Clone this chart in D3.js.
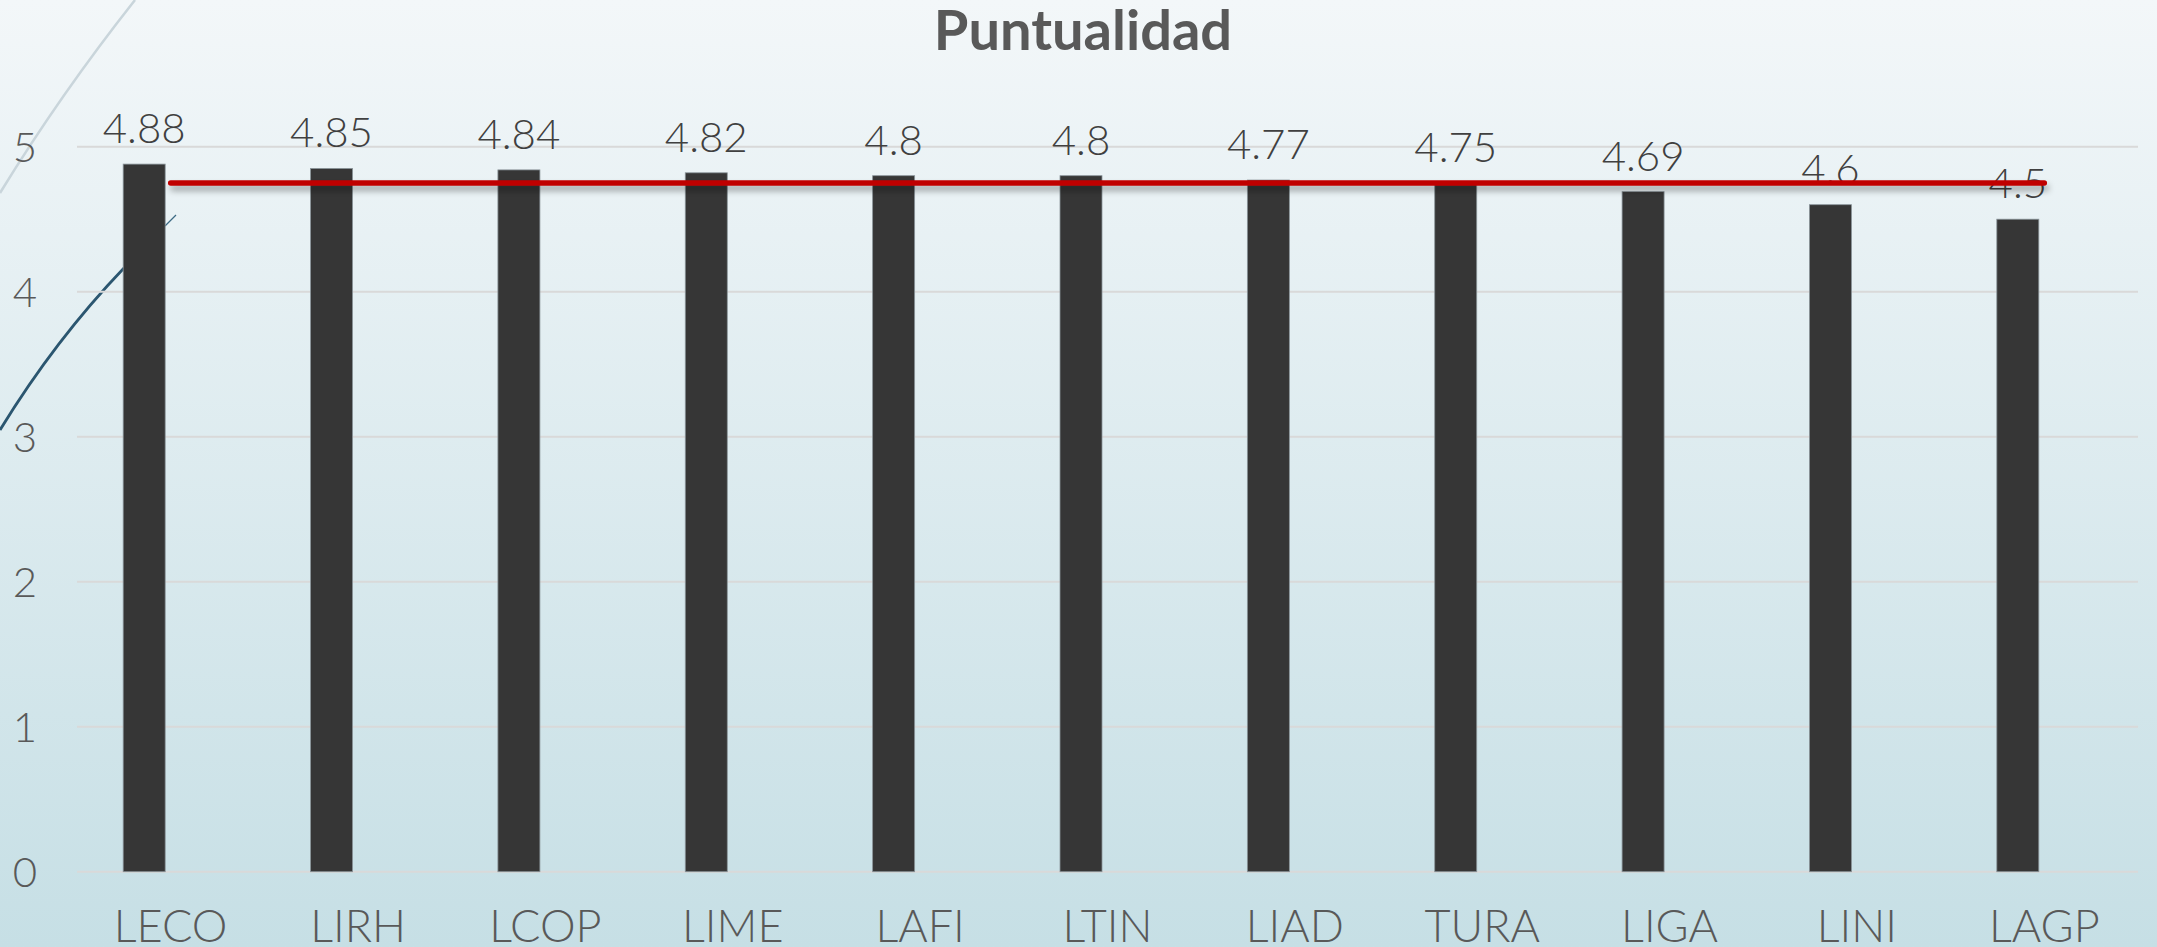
<!DOCTYPE html>
<html>
<head>
<meta charset="utf-8">
<script src="https://cdn.jsdelivr.net/npm/d3@7.9.0/dist/d3.min.js"></script>
<style>
  html, body { margin: 0; padding: 0; overflow: hidden; }
  svg { display: block; font-family: Lato, "Open Sans", sans-serif; }
</style>
</head>
<body>
<div id="chart"></div>
<script>
const categories = ['LECO','LIRH','LCOP','LIME','LAFI','LTIN','LIAD','TURA','LIGA','LINI','LAGP'];
const values     = [4.88, 4.85, 4.84, 4.82, 4.8, 4.8, 4.77, 4.75, 4.69, 4.6, 4.5];
const target     = 4.75;
const yTicks     = [0, 1, 2, 3, 4, 5];
const title      = 'Puntualidad';

const W = 2157, H = 947;
const plot = { left: 77, right: 2138, top: 146.7, bottom: 871.7 };
const barShift = -26.5;   // bars sit a little left of the category slots
const barWidth = 42;

const svg = d3.select('#chart').append('svg')
  .attr('width', W).attr('height', H);

//─── background gradient + filters ───────────
const defs = svg.append('defs');
const grad = defs.append('linearGradient')
  .attr('id', 'bg').attr('x1', 0).attr('y1', 0).attr('x2', 0).attr('y2', 1);
grad.append('stop').attr('offset', '0%').attr('stop-color', '#f3f7f9');
grad.append('stop').attr('offset', '100%').attr('stop-color', '#c6dfe5');

// horizontal line has a zero-height bbox, so the filter needs user space units
const shadow = defs.append('filter').attr('id', 'shadow')
  .attr('filterUnits', 'userSpaceOnUse')
  .attr('x', 0).attr('y', 0).attr('width', W).attr('height', H);
shadow.append('feDropShadow')
  .attr('dx', 2).attr('dy', 5).attr('stdDeviation', 3)
  .attr('flood-color', '#000').attr('flood-opacity', 0.35);

svg.append('rect').attr('width', W).attr('height', H).attr('fill', 'url(#bg)');

// decorative arcs from the slide theme
svg.append('path')
  .attr('d', 'M135,0 Q60,95 0,193')
  .attr('fill', 'none').attr('stroke', '#c9d5db').attr('stroke-width', 2.5);
svg.append('path')
  .attr('d', 'M124,268 Q55,340 0,430')
  .attr('fill', 'none').attr('stroke', '#2b5670').attr('stroke-width', 2.8);
svg.append('path')
  .attr('d', 'M165,226 L176,215')
  .attr('fill', 'none').attr('stroke', '#3d6a84').attr('stroke-width', 1.3);

//─── scales ──────────────────────────────────
const x = d3.scaleBand()
  .domain(categories)
  .range([plot.left, plot.right]);
const cx = d => x(d) + x.bandwidth() / 2;

const y = d3.scaleLinear()
  .domain([0, 5])
  .range([plot.bottom, plot.top]);

//─── gridlines ───────────────────────────────
svg.append('g')
  .selectAll('line')
  .data(yTicks)
  .join('line')
    .attr('x1', plot.left).attr('x2', plot.right)
    .attr('y1', d => y(d)).attr('y2', d => y(d))
    .attr('stroke', '#d9d9d9').attr('stroke-width', 2);

// y tick labels
svg.append('g')
  .selectAll('text')
  .data(yTicks)
  .join('text')
    .attr('x', 25).attr('y', d => y(d))
    .attr('dy', '0.36em')
    .attr('text-anchor', 'middle')
    .attr('font-size', 42).attr('font-weight', 300)
    .attr('fill', '#595959')
    .text(d => d);

// x labels
svg.append('g')
  .selectAll('text')
  .data(categories)
  .join('text')
    .attr('x', d => cx(d)).attr('y', 942)
    .attr('text-anchor', 'middle')
    .attr('font-size', 45).attr('font-weight', 300)
    .attr('fill', '#595959')
    .text(d => d);

//─── bars ────────────────────────────────────
const data = categories.map((c, i) => ({ cat: c, value: values[i] }));

svg.append('g')
  .selectAll('rect')
  .data(data)
  .join('rect')
    .attr('x', d => cx(d.cat) + barShift - barWidth / 2)
    .attr('y', d => y(d.value))
    .attr('width', barWidth)
    .attr('height', d => y(0) - y(d.value))
    .attr('fill', '#363636')
    .attr('stroke', '#8a9499').attr('stroke-width', 0.8);

// value labels
svg.append('g')
  .selectAll('text')
  .data(data)
  .join('text')
    .attr('x', d => cx(d.cat) + barShift)
    .attr('y', d => y(d.value) - 21)
    .attr('text-anchor', 'middle')
    .attr('font-size', 42).attr('font-weight', 300)
    .attr('fill', '#404040')
    .text(d => d.value);

//─── target line ─────────────────────────────
svg.append('path')
  .datum(categories)
  .attr('d', d3.line().x(d => cx(d)).y(() => y(target)))
  .attr('fill', 'none')
  .attr('stroke', '#c00000')
  .attr('stroke-width', 5.5)
  .attr('stroke-linecap', 'round')
  .attr('filter', 'url(#shadow)');

//─── title ───────────────────────────────────
svg.append('text')
  .attr('x', 1083).attr('y', 50)
  .attr('text-anchor', 'middle')
  .attr('font-size', 56).attr('font-weight', 700)
  .attr('fill', '#595959')
  .text(title);
</script>
</body>
</html>
